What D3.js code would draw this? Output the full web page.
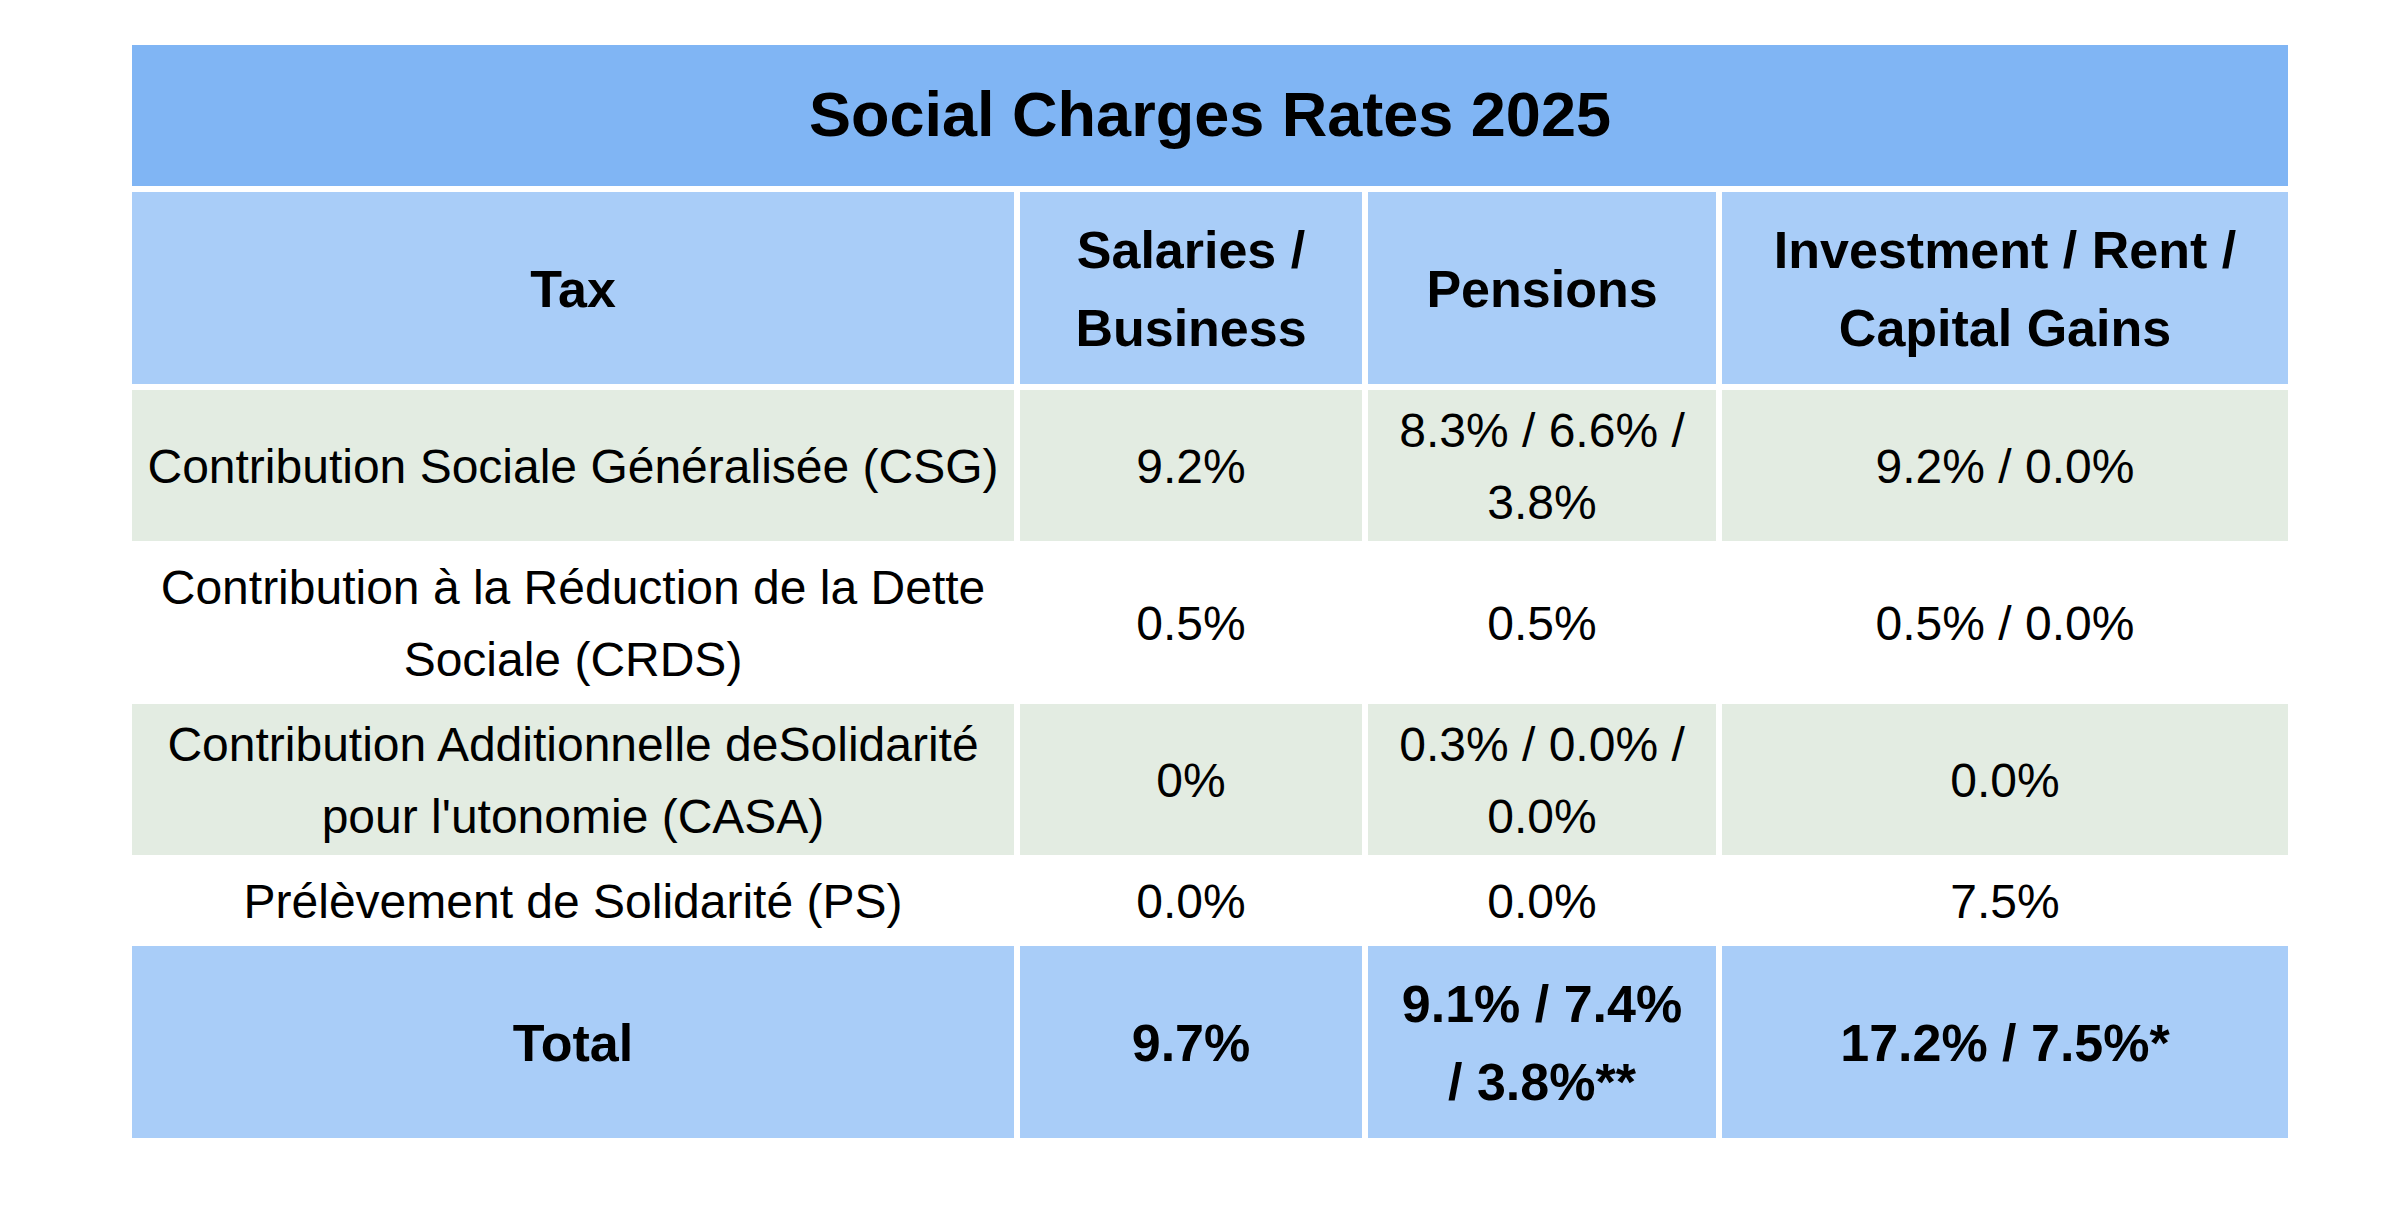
<!DOCTYPE html>
<html>
<head>
<meta charset="utf-8">
<script src="https://cdn.jsdelivr.net/npm/d3@7"></script>
<style>
  body { margin: 0; background: #fff; }
  svg { display: block; }
</style>
</head>
<body>
<main></main>
<script>
// table content
var title = "Social Charges Rates 2025";
var columns = ["Tax", "Salaries /\nBusiness", "Pensions", "Investment / Rent /\nCapital Gains"];
var taxes = [
    "Contribution Sociale Généralisée (CSG)",
    "Contribution à la Réduction de la Dette\nSociale (CRDS)",
    "Contribution Additionnelle deSolidarité\npour l'utonomie (CASA)",
    "Prélèvement de Solidarité (PS)"
];
var salaries = ["9.2%", "0.5%", "0%", "0.0%"];
var pensions = ["8.3% / 6.6% /\n3.8%", "0.5%", "0.3% / 0.0% /\n0.0%", "0.0%"];
var investment = ["9.2% / 0.0%", "0.5% / 0.0%", "0.0%", "7.5%"];
var totals = ["Total", "9.7%", "9.1% / 7.4%\n/ 3.8%**", "17.2% / 7.5%*"];

var W = 2388, H = 1217;
var gap = 6;
var colWeights = [888, 348, 354, 572];
var font = "'Liberation Sans', Arial, Helvetica, sans-serif";

var svg = d3.select("main")
    .append("svg")
    .attr("width", W)
    .attr("height", H);

svg.append("rect").attr("width", W).attr("height", H).attr("fill", "#fff");

// x positions from cumulative column weights
var cum = [0];
colWeights.forEach(function (w, i) { cum.push(cum[i] + w); });
var x = d3.scaleLinear().domain([0, cum[cum.length - 1]]).range([132, 2288 + gap]);

// build rows
var rows = [];
rows.push({ kind: "head", cells: columns, fill: "#a9cdf8", size: 52, lh: 78, weight: "bold", pad: 36 });
taxes.forEach(function (t, i) {
    rows.push({
        kind: "body",
        cells: [t, salaries[i], pensions[i], investment[i]],
        fill: i % 2 === 0 ? "#e3ece2" : "#ffffff",
        size: 48, lh: 72, weight: "normal", pad: 7
    });
});
rows.push({ kind: "total", cells: totals, fill: "#a9cdf8", size: 52, lh: 78, weight: "bold", pad: 36 });

rows.forEach(function (r) {
    r.lines = r.cells.map(function (c) { return c.split("\n"); });
    var n = d3.max(r.lines, function (l) { return l.length; });
    r.h = n * r.lh + r.pad;
});

var titleTop = 45, titleH = 141;
var yStart = titleTop + titleH + gap;
var yCum = [0];
rows.forEach(function (r, i) { yCum.push(yCum[i] + r.h + gap); });
var y = d3.scaleLinear().domain([0, 1]).range([yStart, yStart + 1]);

// title band
svg.append("rect")
    .attr("x", x(0)).attr("y", titleTop)
    .attr("width", x(cum[4]) - gap - x(0)).attr("height", titleH)
    .attr("fill", "#80b5f4");

svg.append("text")
    .attr("x", (x(0) + x(cum[4]) - gap) / 2)
    .attr("y", titleTop + titleH / 2 + 0.33 * 63)
    .attr("text-anchor", "middle")
    .attr("font-family", font)
    .attr("font-size", 63)
    .attr("font-weight", "bold")
    .attr("fill", "#000")
    .text(title);

var rowG = svg.selectAll("g.row")
    .data(rows)
    .enter()
    .append("g")
    .attr("class", "row")
    .attr("transform", function (d, i) { return "translate(0," + y(yCum[i]) + ")"; });

var cells = rowG.selectAll("g.cell")
    .data(function (r) {
        return r.lines.map(function (lines, j) { return { row: r, lines: lines, col: j }; });
    })
    .enter()
    .append("g")
    .attr("class", "cell");

cells.append("rect")
    .attr("x", function (d) { return x(cum[d.col]); })
    .attr("y", 0)
    .attr("width", function (d) { return x(cum[d.col + 1]) - x(cum[d.col]) - gap; })
    .attr("height", function (d) { return d.row.h; })
    .attr("fill", function (d) { return d.row.fill; });

cells.each(function (d) {
    var cx = (x(cum[d.col]) + x(cum[d.col + 1]) - gap) / 2;
    var cy = d.row.h / 2;
    var n = d.lines.length;
    var r = d.row;
    d3.select(this).selectAll("text")
        .data(d.lines)
        .enter()
        .append("text")
        .attr("x", cx)
        .attr("y", function (t, k) { return cy + (k - (n - 1) / 2) * r.lh + 0.358 * r.size; })
        .attr("text-anchor", "middle")
        .attr("font-family", font)
        .attr("font-size", r.size)
        .attr("font-weight", r.weight)
        .attr("fill", "#000")
        .text(function (t) { return t; });
});
</script>
</body>
</html>
